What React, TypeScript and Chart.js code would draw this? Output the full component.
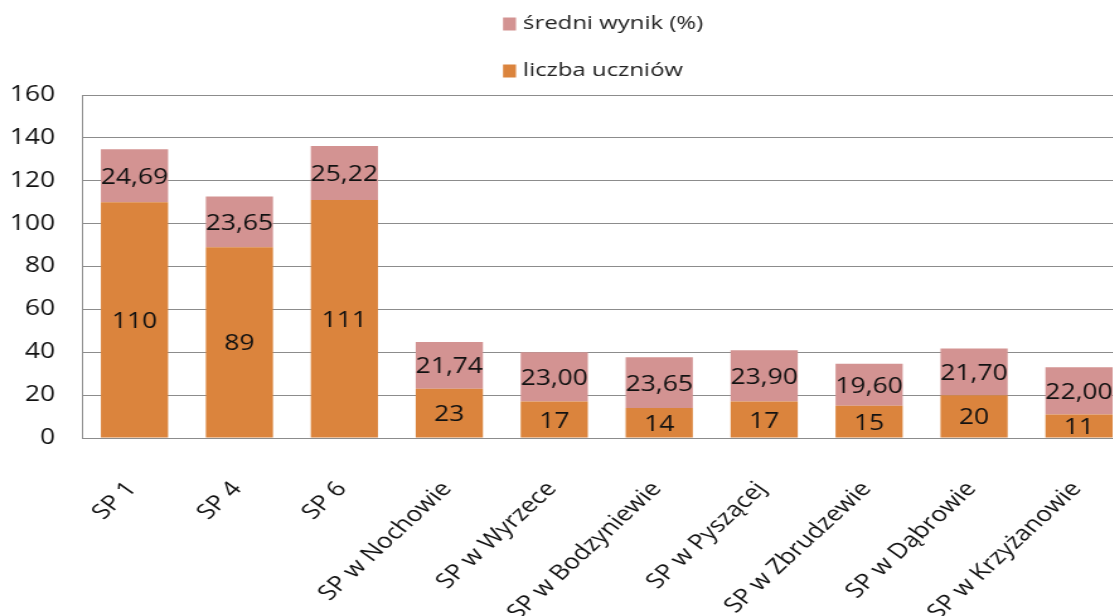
import React, { useEffect, useRef } from "react";
import { Chart, registerables } from "chart.js";

Chart.register(...registerables);

const categories = [
  "SP 1",
  "SP 4",
  "SP 6",
  "SP w Nochowie",
  "SP w Wyrzece",
  "SP w Bodzyniewie",
  "SP w Pyszącej",
  "SP w Zbrudzewie",
  "SP w Dąbrowie",
  "SP w Krzyżanowie",
];
const liczbaUczniow = [110, 89, 111, 23, 17, 14, 17, 15, 20, 11];
const sredniWynik = [24.69, 23.65, 25.22, 21.74, 23.0, 23.65, 23.9, 19.6, 21.7, 22.0];
const seriesNames = ["liczba uczniów", "średni wynik (%)"];
const yTicks = [0, 20, 40, 60, 80, 100, 120, 140, 160];

const ORANGE = "#DB843D";
const PINK = "#D39392";
const FONT = "'Open Sans', sans-serif";

// the reference image is horizontally stretched; draw narrower and stretch
const SX = 1.26;
const CW = Math.round(1132 / SX);
const CH = 660;

export default function App() {
  const ref = useRef<HTMLCanvasElement>(null);
  useEffect(() => {
    if (!ref.current) return;
    const labelPlugin = {
      id: "segLabels",
      afterDatasetsDraw(chart: any) {
        const ctx = chart.ctx;
        ctx.save();
        ctx.fillStyle = "#111";
        ctx.font = `21px ${FONT}`;
        ctx.textAlign = "center";
        ctx.textBaseline = "middle";
        chart.data.datasets.forEach((ds: any, di: number) => {
          const meta = chart.getDatasetMeta(di);
          meta.data.forEach((el: any, i: number) => {
            const v = ds.data[i];
            const txt = di === 0 ? String(v) : v.toFixed(2).replace(".", ",");
            ctx.fillText(txt, el.x, (el.y + el.base) / 2 + 2);
          });
        });
        ctx.restore();
      },
    };
    const legendPlugin = {
      id: "customLegend",
      afterDraw(chart: any) {
        const ctx = chart.ctx;
        ctx.save();
        ctx.font = `19px ${FONT}`;
        ctx.textBaseline = "middle";
        ctx.textAlign = "left";
        const items = [
          { t: seriesNames[1], c: PINK, y: 24 },
          { t: seriesNames[0], c: ORANGE, y: 71 },
        ];
        items.forEach((it) => {
          ctx.fillStyle = it.c;
          ctx.fillRect(503 / SX, it.y - 6.5, 13 / SX, 13);
          ctx.fillStyle = "#222";
          ctx.fillText(it.t, 523 / SX, it.y);
        });
        ctx.restore();
      },
    };
    const chart = new Chart(ref.current, {
      type: "bar",
      data: {
        labels: categories,
        datasets: [
          { label: seriesNames[0], data: liczbaUczniow, backgroundColor: ORANGE, barPercentage: 0.64, categoryPercentage: 1 },
          { label: seriesNames[1], data: sredniWynik, backgroundColor: PINK, barPercentage: 0.64, categoryPercentage: 1 },
        ],
      },
      options: {
        animation: false,
        responsive: false,
        devicePixelRatio: 1,
        layout: { padding: { top: 95, left: 0, right: 0, bottom: 0 } },
        plugins: { legend: { display: false }, tooltip: { enabled: false } },
        scales: {
          x: {
            stacked: true,
            grid: { display: false, drawTicks: false },
            border: { color: "#8C8C8C" },
            afterFit: (s: any) => {
              s.height = CH - 438;
              s.paddingLeft = 0;
              s.paddingRight = 0;
            },
            ticks: {
              autoSkip: false,
              minRotation: 49,
              maxRotation: 49,
              padding: 39,
              labelOffset: -2,
              color: "#111",
              font: { family: FONT, size: 21 },
            },
          },
          y: {
            stacked: true,
            min: 0,
            max: 160,
            afterFit: (s: any) => {
              s.width = 82 / SX;
            },
            afterBuildTicks: (s: any) => {
              s.ticks = yTicks.map((v) => ({ value: v }));
            },
            grid: { color: "#8C8C8C", drawTicks: false },
            border: { color: "#8C8C8C" },
            ticks: {
              padding: 27 / SX,
              color: "#111",
              font: { family: FONT, size: 21 },
            },
          },
        },
      },
      plugins: [labelPlugin, legendPlugin],
    });
    return () => chart.destroy();
  }, []);
  return (
    <div style={{ position: "fixed", left: 0, top: 0, width: 1113, height: 616, overflow: "hidden", background: "#fff" }}>
      <canvas
        ref={ref}
        width={CW}
        height={CH}
        style={{ display: "block", width: CW, height: CH, transform: `scaleX(${SX})`, transformOrigin: "0 0" }}
      />
    </div>
  );
}
